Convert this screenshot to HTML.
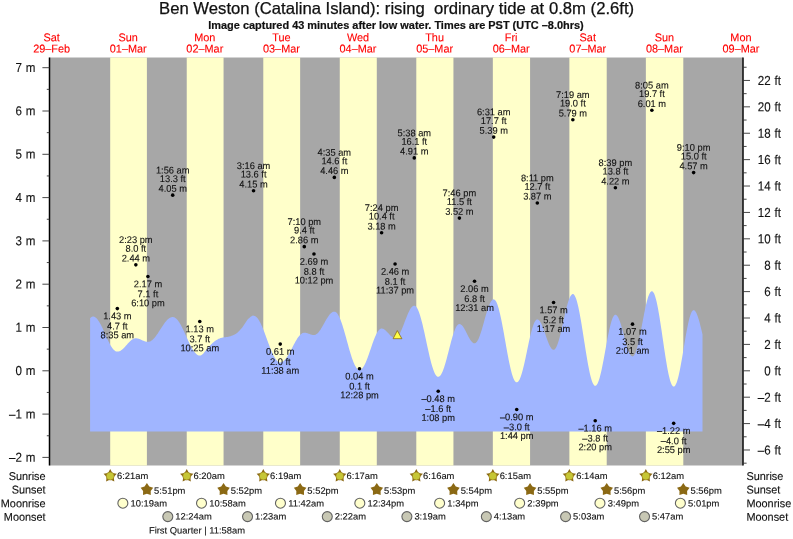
<!DOCTYPE html>
<html><head><meta charset="utf-8"><title>Ben Weston (Catalina Island) tide times</title>
<style>html,body{margin:0;padding:0;background:#fff}svg{display:block}</style></head>
<body>
<svg width="793" height="539" viewBox="0 0 793 539" font-family="'Liberation Sans', Arial, Helvetica, sans-serif">
<rect width="793" height="539" fill="#fff"/>
<rect x="49.50" y="57.50" width="693.50" height="408.00" fill="#a7a7a7"/>
<rect x="110.20" y="57.50" width="36.70" height="408.00" fill="#ffffca"/>
<rect x="186.74" y="57.50" width="36.81" height="408.00" fill="#ffffca"/>
<rect x="263.28" y="57.50" width="36.86" height="408.00" fill="#ffffca"/>
<rect x="339.77" y="57.50" width="37.02" height="408.00" fill="#ffffca"/>
<rect x="416.30" y="57.50" width="37.13" height="408.00" fill="#ffffca"/>
<rect x="492.84" y="57.50" width="37.23" height="408.00" fill="#ffffca"/>
<rect x="569.38" y="57.50" width="37.34" height="408.00" fill="#ffffca"/>
<rect x="645.86" y="57.50" width="37.44" height="408.00" fill="#ffffca"/>
<path d="M90.10 431.40 L90.10 318.37 L90.60 317.78 L91.10 317.31 L91.60 316.94 L92.10 316.68 L92.60 316.54 L93.10 316.50 L93.60 316.55 L94.10 316.68 L94.60 316.87 L95.10 317.14 L95.60 317.48 L96.10 317.89 L96.60 318.36 L97.10 318.90 L97.60 319.51 L98.10 320.17 L98.60 320.89 L99.10 321.67 L99.60 322.50 L100.10 323.38 L100.60 324.30 L101.10 325.26 L101.60 326.26 L102.10 327.29 L102.60 328.35 L103.10 329.43 L103.60 330.54 L104.10 331.65 L104.60 332.78 L105.10 333.91 L105.60 335.05 L106.10 336.18 L106.60 337.30 L107.10 338.40 L107.60 339.49 L108.10 340.56 L108.60 341.60 L109.10 342.61 L109.60 343.58 L110.10 344.51 L110.60 345.40 L111.10 346.24 L111.60 347.03 L112.10 347.77 L112.60 348.45 L113.10 349.07 L113.60 349.63 L114.10 350.12 L114.60 350.55 L115.10 350.90 L115.60 351.19 L116.10 351.41 L116.60 351.55 L117.10 351.62 L117.60 351.62 L118.10 351.57 L118.60 351.47 L119.10 351.33 L119.60 351.14 L120.10 350.90 L120.60 350.63 L121.10 350.31 L121.60 349.95 L122.10 349.56 L122.60 349.14 L123.10 348.68 L123.60 348.20 L124.10 347.69 L124.60 347.17 L125.10 346.63 L125.60 346.07 L126.10 345.51 L126.60 344.95 L127.10 344.38 L127.60 343.82 L128.10 343.27 L128.60 342.73 L129.10 342.20 L129.60 341.70 L130.10 341.22 L130.60 340.77 L131.10 340.34 L131.60 339.95 L132.10 339.60 L132.60 339.28 L133.10 339.01 L133.60 338.77 L134.10 338.59 L134.60 338.44 L135.10 338.35 L135.60 338.30 L136.10 338.30 L136.60 338.33 L137.10 338.39 L137.60 338.48 L138.10 338.60 L138.60 338.74 L139.10 338.90 L139.60 339.08 L140.10 339.28 L140.60 339.50 L141.10 339.72 L141.60 339.95 L142.10 340.18 L142.60 340.41 L143.10 340.64 L143.60 340.85 L144.10 341.05 L144.60 341.24 L145.10 341.40 L145.60 341.55 L146.10 341.67 L146.60 341.76 L147.10 341.82 L147.60 341.85 L148.10 341.86 L148.60 341.81 L149.10 341.72 L149.60 341.58 L150.10 341.39 L150.60 341.15 L151.10 340.86 L151.60 340.53 L152.10 340.16 L152.60 339.74 L153.10 339.28 L153.60 338.78 L154.10 338.24 L154.60 337.67 L155.10 337.06 L155.60 336.43 L156.10 335.76 L156.60 335.07 L157.10 334.36 L157.60 333.63 L158.10 332.88 L158.60 332.12 L159.10 331.35 L159.60 330.57 L160.10 329.78 L160.60 329.00 L161.10 328.21 L161.60 327.43 L162.10 326.66 L162.60 325.90 L163.10 325.16 L163.60 324.43 L164.10 323.72 L164.60 323.03 L165.10 322.37 L165.60 321.74 L166.10 321.14 L166.60 320.58 L167.10 320.05 L167.60 319.55 L168.10 319.10 L168.60 318.69 L169.10 318.32 L169.60 317.99 L170.10 317.72 L170.60 317.49 L171.10 317.30 L171.60 317.17 L172.10 317.08 L172.60 317.05 L173.10 317.07 L173.60 317.15 L174.10 317.30 L174.60 317.51 L175.10 317.79 L175.60 318.13 L176.10 318.53 L176.60 318.99 L177.10 319.51 L177.60 320.08 L178.10 320.71 L178.60 321.39 L179.10 322.12 L179.60 322.90 L180.10 323.73 L180.60 324.59 L181.10 325.50 L181.60 326.44 L182.10 327.42 L182.60 328.42 L183.10 329.46 L183.60 330.51 L184.10 331.59 L184.60 332.68 L185.10 333.78 L185.60 334.89 L186.10 336.01 L186.60 337.13 L187.10 338.24 L187.60 339.35 L188.10 340.45 L188.60 341.53 L189.10 342.60 L189.60 343.65 L190.10 344.67 L190.60 345.66 L191.10 346.62 L191.60 347.55 L192.10 348.44 L192.60 349.29 L193.10 350.09 L193.60 350.85 L194.10 351.56 L194.60 352.22 L195.10 352.82 L195.60 353.37 L196.10 353.86 L196.60 354.29 L197.10 354.67 L197.60 354.98 L198.10 355.22 L198.60 355.41 L199.10 355.53 L199.60 355.58 L200.10 355.57 L200.60 355.44 L201.10 355.23 L201.60 354.94 L202.10 354.58 L202.60 354.16 L203.10 353.68 L203.60 353.15 L204.10 352.58 L204.60 351.99 L205.10 351.36 L205.60 350.73 L206.10 350.08 L206.60 349.44 L207.10 348.80 L207.60 348.18 L208.10 347.58 L208.60 347.01 L209.10 346.49 L209.60 346.01 L210.10 345.53 L210.60 345.05 L211.10 344.55 L211.60 344.06 L212.10 343.57 L212.60 343.08 L213.10 342.60 L213.60 342.14 L214.10 341.70 L214.60 341.29 L215.10 340.90 L215.60 340.55 L216.10 340.24 L216.60 339.94 L217.10 339.66 L217.60 339.38 L218.10 339.12 L218.60 338.87 L219.10 338.64 L219.60 338.43 L220.10 338.24 L220.60 338.07 L221.10 337.93 L221.60 337.80 L222.10 337.70 L222.60 337.60 L223.10 337.51 L223.60 337.44 L224.10 337.37 L224.60 337.30 L225.10 337.24 L225.60 337.17 L226.10 337.11 L226.60 337.04 L227.10 336.96 L227.60 336.88 L228.10 336.79 L228.60 336.69 L229.10 336.58 L229.60 336.45 L230.10 336.31 L230.60 336.16 L231.10 335.99 L231.60 335.81 L232.10 335.62 L232.60 335.42 L233.10 335.21 L233.60 334.98 L234.10 334.74 L234.60 334.49 L235.10 334.22 L235.60 333.94 L236.10 333.63 L236.60 333.27 L237.10 332.88 L237.60 332.45 L238.10 331.99 L238.60 331.51 L239.10 331.00 L239.60 330.47 L240.10 329.92 L240.60 329.37 L241.10 328.81 L241.60 328.24 L242.10 327.67 L242.60 327.03 L243.10 326.34 L243.60 325.59 L244.10 324.82 L244.60 324.02 L245.10 323.22 L245.60 322.42 L246.10 321.65 L246.60 320.92 L247.10 320.24 L247.60 319.62 L248.10 319.08 L248.60 318.62 L249.10 318.18 L249.60 317.73 L250.10 317.29 L250.60 316.87 L251.10 316.48 L251.60 316.15 L252.10 315.87 L252.60 315.66 L253.10 315.53 L253.60 315.73 L254.10 315.78 L254.60 315.91 L255.10 316.12 L255.60 316.41 L256.10 316.77 L256.60 317.22 L257.10 317.74 L257.60 318.33 L258.10 319.00 L258.60 319.74 L259.10 320.54 L259.60 321.41 L260.10 322.33 L260.60 323.32 L261.10 324.36 L261.60 325.45 L262.10 326.59 L262.60 327.77 L263.10 329.00 L263.60 330.25 L264.10 331.54 L264.60 332.85 L265.10 334.19 L265.60 335.54 L266.10 336.90 L266.60 338.27 L267.10 339.65 L267.60 341.02 L268.10 342.38 L268.60 343.74 L269.10 345.08 L269.60 346.39 L270.10 347.68 L270.60 348.95 L271.10 350.17 L271.60 351.36 L272.10 352.51 L272.60 353.61 L273.10 354.66 L273.60 355.66 L274.10 356.60 L274.60 357.48 L275.10 358.29 L275.60 359.04 L276.10 359.72 L276.60 360.33 L277.10 360.87 L277.60 361.32 L278.10 361.71 L278.60 362.01 L279.10 362.24 L279.60 362.38 L280.10 362.45 L280.60 362.43 L281.10 362.36 L281.60 362.22 L282.10 362.02 L282.60 361.75 L283.10 361.43 L283.60 361.05 L284.10 360.61 L284.60 360.11 L285.10 359.56 L285.60 358.96 L286.10 358.32 L286.60 357.62 L287.10 356.88 L287.60 356.11 L288.10 355.30 L288.60 354.45 L289.10 353.58 L289.60 352.67 L290.10 351.75 L290.60 350.81 L291.10 349.86 L291.60 348.90 L292.10 347.93 L292.60 346.96 L293.10 345.99 L293.60 345.03 L294.10 344.08 L294.60 343.15 L295.10 342.23 L295.60 341.34 L296.10 340.47 L296.60 339.64 L297.10 338.84 L297.60 338.07 L298.10 337.35 L298.60 336.67 L299.10 336.04 L299.60 335.46 L300.10 334.92 L300.60 334.45 L301.10 334.02 L301.60 333.66 L302.10 333.36 L302.60 333.11 L303.10 332.93 L303.60 332.81 L304.10 332.76 L304.60 332.76 L305.10 332.79 L305.60 332.85 L306.10 332.94 L306.60 333.06 L307.10 333.19 L307.60 333.34 L308.10 333.51 L308.60 333.68 L309.10 333.87 L309.60 334.05 L310.10 334.22 L310.60 334.39 L311.10 334.55 L311.60 334.68 L312.10 334.80 L312.60 334.89 L313.10 334.95 L313.60 334.99 L314.10 335.00 L314.60 334.94 L315.10 334.82 L315.60 334.63 L316.10 334.37 L316.60 334.05 L317.10 333.66 L317.60 333.21 L318.10 332.71 L318.60 332.14 L319.10 331.53 L319.60 330.86 L320.10 330.15 L320.60 329.40 L321.10 328.62 L321.60 327.80 L322.10 326.96 L322.60 326.09 L323.10 325.21 L323.60 324.32 L324.10 323.42 L324.60 322.52 L325.10 321.62 L325.60 320.74 L326.10 319.87 L326.60 319.02 L327.10 318.19 L327.60 317.40 L328.10 316.64 L328.60 315.92 L329.10 315.25 L329.60 314.62 L330.10 314.05 L330.60 313.53 L331.10 313.07 L331.60 312.67 L332.10 312.33 L332.60 312.06 L333.10 311.85 L333.60 311.71 L334.10 311.65 L334.60 311.65 L335.10 311.77 L335.60 312.00 L336.10 312.34 L336.60 312.79 L337.10 313.35 L337.60 314.02 L338.10 314.79 L338.60 315.67 L339.10 316.64 L339.60 317.71 L340.10 318.86 L340.60 320.10 L341.10 321.43 L341.60 322.82 L342.10 324.29 L342.60 325.82 L343.10 327.42 L343.60 329.06 L344.10 330.75 L344.60 332.47 L345.10 334.23 L345.60 336.02 L346.10 337.83 L346.60 339.64 L347.10 341.46 L347.60 343.28 L348.10 345.09 L348.60 346.88 L349.10 348.65 L349.60 350.39 L350.10 352.09 L350.60 353.74 L351.10 355.35 L351.60 356.90 L352.10 358.38 L352.60 359.80 L353.10 361.15 L353.60 362.41 L354.10 363.59 L354.60 364.68 L355.10 365.68 L355.60 366.58 L356.10 367.38 L356.60 368.08 L357.10 368.67 L357.60 369.16 L358.10 369.53 L358.60 369.79 L359.10 369.94 L359.60 369.97 L360.10 369.90 L360.60 369.72 L361.10 369.44 L361.60 369.06 L362.10 368.57 L362.60 368.00 L363.10 367.32 L363.60 366.56 L364.10 365.70 L364.60 364.77 L365.10 363.76 L365.60 362.67 L366.10 361.52 L366.60 360.30 L367.10 359.03 L367.60 357.71 L368.10 356.35 L368.60 354.95 L369.10 353.52 L369.60 352.07 L370.10 350.61 L370.60 349.14 L371.10 347.67 L371.60 346.21 L372.10 344.76 L372.60 343.34 L373.10 341.94 L373.60 340.59 L374.10 339.27 L374.60 338.01 L375.10 336.80 L375.60 335.66 L376.10 334.59 L376.60 333.58 L377.10 332.66 L377.60 331.82 L378.10 331.07 L378.60 330.41 L379.10 329.85 L379.60 329.38 L380.10 329.01 L380.60 328.75 L381.10 328.59 L381.60 328.53 L382.10 328.56 L382.60 328.65 L383.10 328.81 L383.60 329.03 L384.10 329.30 L384.60 329.63 L385.10 330.01 L385.60 330.43 L386.10 330.90 L386.60 331.39 L387.10 331.91 L387.60 332.45 L388.10 333.00 L388.60 333.56 L389.10 334.11 L389.60 334.65 L390.10 335.17 L390.60 335.66 L391.10 336.12 L391.60 336.55 L392.10 336.93 L392.60 337.26 L393.10 337.53 L393.60 337.75 L394.10 337.91 L394.60 338.00 L395.10 338.03 L395.60 337.98 L396.10 337.81 L396.60 337.54 L397.10 337.16 L397.60 336.68 L398.10 336.10 L398.60 335.43 L399.10 334.66 L399.60 333.81 L400.10 332.88 L400.60 331.88 L401.10 330.81 L401.60 329.68 L402.10 328.49 L402.60 327.27 L403.10 326.00 L403.60 324.71 L404.10 323.40 L404.60 322.08 L405.10 320.76 L405.60 319.45 L406.10 318.15 L406.60 316.88 L407.10 315.64 L407.60 314.44 L408.10 313.29 L408.60 312.20 L409.10 311.17 L409.60 310.22 L410.10 309.34 L410.60 308.55 L411.10 307.84 L411.60 307.23 L412.10 306.72 L412.60 306.31 L413.10 306.00 L413.60 305.80 L414.10 305.71 L414.60 305.73 L415.10 305.90 L415.60 306.23 L416.10 306.71 L416.60 307.33 L417.10 308.10 L417.60 309.02 L418.10 310.07 L418.60 311.26 L419.10 312.58 L419.60 314.02 L420.10 315.57 L420.60 317.24 L421.10 319.01 L421.60 320.88 L422.10 322.84 L422.60 324.87 L423.10 326.98 L423.60 329.14 L424.10 331.36 L424.60 333.62 L425.10 335.92 L425.60 338.24 L426.10 340.57 L426.60 342.90 L427.10 345.23 L427.60 347.54 L428.10 349.82 L428.60 352.07 L429.10 354.26 L429.60 356.41 L430.10 358.49 L430.60 360.49 L431.10 362.41 L431.60 364.24 L432.10 365.97 L432.60 367.60 L433.10 369.11 L433.60 370.50 L434.10 371.77 L434.60 372.90 L435.10 373.90 L435.60 374.76 L436.10 375.47 L436.60 376.04 L437.10 376.45 L437.60 376.72 L438.10 376.83 L438.60 376.79 L439.10 376.61 L439.60 376.28 L440.10 375.81 L440.60 375.20 L441.10 374.46 L441.60 373.58 L442.10 372.57 L442.60 371.45 L443.10 370.20 L443.60 368.85 L444.10 367.40 L444.60 365.85 L445.10 364.22 L445.60 362.51 L446.10 360.74 L446.60 358.91 L447.10 357.03 L447.60 355.12 L448.10 353.18 L448.60 351.23 L449.10 349.27 L449.60 347.32 L450.10 345.38 L450.60 343.48 L451.10 341.61 L451.60 339.79 L452.10 338.03 L452.60 336.34 L453.10 334.72 L453.60 333.19 L454.10 331.76 L454.60 330.43 L455.10 329.21 L455.60 328.10 L456.10 327.12 L456.60 326.27 L457.10 325.55 L457.60 324.97 L458.10 324.52 L458.60 324.22 L459.10 324.07 L459.60 324.05 L460.10 324.15 L460.60 324.35 L461.10 324.64 L461.60 325.04 L462.10 325.53 L462.60 326.10 L463.10 326.76 L463.60 327.49 L464.10 328.29 L464.60 329.14 L465.10 330.05 L465.60 330.99 L466.10 331.96 L466.60 332.95 L467.10 333.95 L467.60 334.94 L468.10 335.92 L468.60 336.88 L469.10 337.80 L469.60 338.68 L470.10 339.51 L470.60 340.27 L471.10 340.96 L471.60 341.57 L472.10 342.10 L472.60 342.54 L473.10 342.88 L473.60 343.13 L474.10 343.27 L474.60 343.31 L475.10 343.22 L475.60 342.98 L476.10 342.60 L476.60 342.08 L477.10 341.41 L477.60 340.61 L478.10 339.68 L478.60 338.63 L479.10 337.46 L479.60 336.18 L480.10 334.80 L480.60 333.33 L481.10 331.78 L481.60 330.16 L482.10 328.48 L482.60 326.76 L483.10 324.99 L483.60 323.21 L484.10 321.41 L484.60 319.60 L485.10 317.82 L485.60 316.05 L486.10 314.32 L486.60 312.64 L487.10 311.01 L487.60 309.46 L488.10 307.98 L488.60 306.60 L489.10 305.31 L489.60 304.13 L490.10 303.07 L490.60 302.13 L491.10 301.32 L491.60 300.65 L492.10 300.11 L492.60 299.72 L493.10 299.47 L493.60 299.37 L494.10 299.43 L494.60 299.68 L495.10 300.13 L495.60 300.76 L496.10 301.58 L496.60 302.59 L497.10 303.77 L497.60 305.12 L498.10 306.64 L498.60 308.32 L499.10 310.15 L499.60 312.13 L500.10 314.23 L500.60 316.47 L501.10 318.81 L501.60 321.26 L502.10 323.80 L502.60 326.41 L503.10 329.10 L503.60 331.84 L504.10 334.62 L504.60 337.43 L505.10 340.26 L505.60 343.09 L506.10 345.91 L506.60 348.71 L507.10 351.47 L507.60 354.18 L508.10 356.82 L508.60 359.40 L509.10 361.89 L509.60 364.28 L510.10 366.56 L510.60 368.72 L511.10 370.75 L511.60 372.65 L512.10 374.39 L512.60 375.98 L513.10 377.41 L513.60 378.67 L514.10 379.75 L514.60 380.65 L515.10 381.36 L515.60 381.89 L516.10 382.23 L516.60 382.37 L517.10 382.33 L517.60 382.10 L518.10 381.69 L518.60 381.10 L519.10 380.33 L519.60 379.39 L520.10 378.29 L520.60 377.03 L521.10 375.61 L521.60 374.05 L522.10 372.36 L522.60 370.54 L523.10 368.61 L523.60 366.58 L524.10 364.45 L524.60 362.24 L525.10 359.97 L525.60 357.65 L526.10 355.28 L526.60 352.89 L527.10 350.49 L527.60 348.10 L528.10 345.71 L528.60 343.36 L529.10 341.05 L529.60 338.80 L530.10 336.62 L530.60 334.53 L531.10 332.52 L531.60 330.63 L532.10 328.85 L532.60 327.20 L533.10 325.69 L533.60 324.33 L534.10 323.12 L534.60 322.07 L535.10 321.19 L535.60 320.49 L536.10 319.96 L536.60 319.61 L537.10 319.44 L537.60 319.45 L538.10 319.60 L538.60 319.89 L539.10 320.32 L539.60 320.89 L540.10 321.58 L540.60 322.39 L541.10 323.31 L541.60 324.34 L542.10 325.47 L542.60 326.68 L543.10 327.96 L543.60 329.31 L544.10 330.71 L544.60 332.14 L545.10 333.59 L545.60 335.06 L546.10 336.52 L546.60 337.96 L547.10 339.37 L547.60 340.74 L548.10 342.04 L548.60 343.28 L549.10 344.44 L549.60 345.51 L550.10 346.48 L550.60 347.33 L551.10 348.07 L551.60 348.68 L552.10 349.16 L552.60 349.51 L553.10 349.71 L553.60 349.78 L554.10 349.68 L554.60 349.40 L555.10 348.93 L555.60 348.28 L556.10 347.46 L556.60 346.47 L557.10 345.32 L557.60 344.01 L558.10 342.55 L558.60 340.96 L559.10 339.24 L559.60 337.40 L560.10 335.46 L560.60 333.43 L561.10 331.33 L561.60 329.16 L562.10 326.95 L562.60 324.70 L563.10 322.43 L563.60 320.16 L564.10 317.90 L564.60 315.67 L565.10 313.48 L565.60 311.34 L566.10 309.28 L566.60 307.30 L567.10 305.42 L567.60 303.65 L568.10 302.00 L568.60 300.48 L569.10 299.10 L569.60 297.88 L570.10 296.82 L570.60 295.92 L571.10 295.20 L571.60 294.65 L572.10 294.29 L572.60 294.11 L573.10 294.12 L573.60 294.35 L574.10 294.80 L574.60 295.48 L575.10 296.38 L575.60 297.49 L576.10 298.81 L576.60 300.33 L577.10 302.05 L577.60 303.95 L578.10 306.03 L578.60 308.28 L579.10 310.68 L579.60 313.23 L580.10 315.91 L580.60 318.70 L581.10 321.60 L581.60 324.59 L582.10 327.66 L582.60 330.79 L583.10 333.96 L583.60 337.16 L584.10 340.38 L584.60 343.59 L585.10 346.79 L585.60 349.95 L586.10 353.06 L586.60 356.11 L587.10 359.08 L587.60 361.95 L588.10 364.72 L588.60 367.36 L589.10 369.87 L589.60 372.23 L590.10 374.44 L590.60 376.47 L591.10 378.33 L591.60 379.99 L592.10 381.46 L592.60 382.72 L593.10 383.78 L593.60 384.62 L594.10 385.24 L594.60 385.63 L595.10 385.80 L595.60 385.75 L596.10 385.48 L596.60 385.00 L597.10 384.31 L597.60 383.41 L598.10 382.32 L598.60 381.02 L599.10 379.54 L599.60 377.89 L600.10 376.06 L600.60 374.08 L601.10 371.96 L601.60 369.70 L602.10 367.33 L602.60 364.85 L603.10 362.29 L603.60 359.65 L604.10 356.95 L604.60 354.22 L605.10 351.46 L605.60 348.69 L606.10 345.94 L606.60 343.21 L607.10 340.52 L607.60 337.90 L608.10 335.34 L608.60 332.88 L609.10 330.53 L609.60 328.29 L610.10 326.19 L610.60 324.24 L611.10 322.44 L611.60 320.81 L612.10 319.36 L612.60 318.10 L613.10 317.04 L613.60 316.17 L614.10 315.52 L614.60 315.07 L615.10 314.84 L615.60 314.82 L616.10 314.98 L616.60 315.32 L617.10 315.82 L617.60 316.49 L618.10 317.33 L618.60 318.31 L619.10 319.44 L619.60 320.71 L620.10 322.10 L620.60 323.60 L621.10 325.21 L621.60 326.90 L622.10 328.67 L622.60 330.49 L623.10 332.36 L623.60 334.25 L624.10 336.16 L624.60 338.06 L625.10 339.94 L625.60 341.78 L626.10 343.58 L626.60 345.30 L627.10 346.94 L627.60 348.49 L628.10 349.93 L628.60 351.25 L629.10 352.43 L629.60 353.48 L630.10 354.37 L630.60 355.11 L631.10 355.68 L631.60 356.09 L632.10 356.32 L632.60 356.38 L633.10 356.23 L633.60 355.87 L634.10 355.30 L634.60 354.53 L635.10 353.55 L635.60 352.38 L636.10 351.01 L636.60 349.47 L637.10 347.76 L637.60 345.89 L638.10 343.88 L638.60 341.73 L639.10 339.47 L639.60 337.10 L640.10 334.65 L640.60 332.12 L641.10 329.54 L641.60 326.92 L642.10 324.28 L642.60 321.64 L643.10 319.01 L643.60 316.41 L644.10 313.86 L644.60 311.38 L645.10 308.97 L645.60 306.67 L646.10 304.48 L646.60 302.41 L647.10 300.49 L647.60 298.71 L648.10 297.11 L648.60 295.68 L649.10 294.43 L649.60 293.38 L650.10 292.52 L650.60 291.88 L651.10 291.44 L651.60 291.21 L652.10 291.21 L652.60 291.44 L653.10 291.92 L653.60 292.65 L654.10 293.61 L654.60 294.81 L655.10 296.24 L655.60 297.89 L656.10 299.75 L656.60 301.81 L657.10 304.07 L657.60 306.51 L658.10 309.12 L658.60 311.88 L659.10 314.78 L659.60 317.80 L660.10 320.94 L660.60 324.16 L661.10 327.47 L661.60 330.83 L662.10 334.24 L662.60 337.67 L663.10 341.10 L663.60 344.53 L664.10 347.92 L664.60 351.27 L665.10 354.55 L665.60 357.76 L666.10 360.86 L666.60 363.85 L667.10 366.71 L667.60 369.43 L668.10 371.99 L668.60 374.38 L669.10 376.58 L669.60 378.59 L670.10 380.39 L670.60 381.98 L671.10 383.34 L671.60 384.47 L672.10 385.37 L672.60 386.02 L673.10 386.43 L673.60 386.60 L674.10 386.52 L674.60 386.20 L675.10 385.65 L675.60 384.87 L676.10 383.86 L676.60 382.64 L677.10 381.20 L677.60 379.55 L678.10 377.72 L678.60 375.70 L679.10 373.51 L679.60 371.17 L680.10 368.69 L680.60 366.08 L681.10 363.36 L681.60 360.54 L682.10 357.66 L682.60 354.71 L683.10 351.73 L683.60 348.72 L684.10 345.72 L684.60 342.73 L685.10 339.77 L685.60 336.87 L686.10 334.04 L686.60 331.30 L687.10 328.66 L687.60 326.15 L688.10 323.77 L688.60 321.55 L689.10 319.50 L689.60 317.62 L690.10 315.93 L690.60 314.45 L691.10 313.17 L691.60 312.12 L692.10 311.29 L692.60 310.69 L693.10 310.32 L693.60 310.19 L694.10 310.27 L694.60 310.55 L695.10 311.01 L695.60 311.65 L696.10 312.48 L696.60 313.48 L697.10 314.64 L697.60 315.95 L698.10 317.41 L698.60 319.01 L699.10 320.72 L699.60 322.54 L700.10 324.45 L700.60 326.44 L701.10 328.49 L701.60 330.58 L702.10 332.71 L702.50 334.41 L702.50 431.40 Z" fill="#a0b5ff"/>
<g stroke="#000" stroke-width="1.5"><line x1="49.50" y1="57.50" x2="49.50" y2="465.50"/></g>
<g stroke="#151515" stroke-width="1.6"><line x1="743.00" y1="57.50" x2="743.00" y2="465.50"/></g>
<g stroke="#333" stroke-width="0.9">
<line x1="42.4" y1="457.40" x2="49.5" y2="457.40"/>
<line x1="46.8" y1="435.75" x2="49.5" y2="435.75"/>
<line x1="42.4" y1="414.10" x2="49.5" y2="414.10"/>
<line x1="46.8" y1="392.45" x2="49.5" y2="392.45"/>
<line x1="42.4" y1="370.80" x2="49.5" y2="370.80"/>
<line x1="46.8" y1="349.15" x2="49.5" y2="349.15"/>
<line x1="42.4" y1="327.50" x2="49.5" y2="327.50"/>
<line x1="46.8" y1="305.85" x2="49.5" y2="305.85"/>
<line x1="42.4" y1="284.20" x2="49.5" y2="284.20"/>
<line x1="46.8" y1="262.55" x2="49.5" y2="262.55"/>
<line x1="42.4" y1="240.90" x2="49.5" y2="240.90"/>
<line x1="46.8" y1="219.25" x2="49.5" y2="219.25"/>
<line x1="42.4" y1="197.60" x2="49.5" y2="197.60"/>
<line x1="46.8" y1="175.95" x2="49.5" y2="175.95"/>
<line x1="42.4" y1="154.30" x2="49.5" y2="154.30"/>
<line x1="46.8" y1="132.65" x2="49.5" y2="132.65"/>
<line x1="42.4" y1="111.00" x2="49.5" y2="111.00"/>
<line x1="46.8" y1="89.35" x2="49.5" y2="89.35"/>
<line x1="42.4" y1="67.70" x2="49.5" y2="67.70"/>
<line x1="743" y1="463.18" x2="746.6" y2="463.18"/>
<line x1="743" y1="449.99" x2="750" y2="449.99"/>
<line x1="743" y1="436.79" x2="746.6" y2="436.79"/>
<line x1="743" y1="423.59" x2="750" y2="423.59"/>
<line x1="743" y1="410.39" x2="746.6" y2="410.39"/>
<line x1="743" y1="397.20" x2="750" y2="397.20"/>
<line x1="743" y1="384.00" x2="746.6" y2="384.00"/>
<line x1="743" y1="370.80" x2="750" y2="370.80"/>
<line x1="743" y1="357.60" x2="746.6" y2="357.60"/>
<line x1="743" y1="344.40" x2="750" y2="344.40"/>
<line x1="743" y1="331.21" x2="746.6" y2="331.21"/>
<line x1="743" y1="318.01" x2="750" y2="318.01"/>
<line x1="743" y1="304.81" x2="746.6" y2="304.81"/>
<line x1="743" y1="291.61" x2="750" y2="291.61"/>
<line x1="743" y1="278.42" x2="746.6" y2="278.42"/>
<line x1="743" y1="265.22" x2="750" y2="265.22"/>
<line x1="743" y1="252.02" x2="746.6" y2="252.02"/>
<line x1="743" y1="238.82" x2="750" y2="238.82"/>
<line x1="743" y1="225.62" x2="746.6" y2="225.62"/>
<line x1="743" y1="212.43" x2="750" y2="212.43"/>
<line x1="743" y1="199.23" x2="746.6" y2="199.23"/>
<line x1="743" y1="186.03" x2="750" y2="186.03"/>
<line x1="743" y1="172.83" x2="746.6" y2="172.83"/>
<line x1="743" y1="159.63" x2="750" y2="159.63"/>
<line x1="743" y1="146.44" x2="746.6" y2="146.44"/>
<line x1="743" y1="133.24" x2="750" y2="133.24"/>
<line x1="743" y1="120.04" x2="746.6" y2="120.04"/>
<line x1="743" y1="106.84" x2="750" y2="106.84"/>
<line x1="743" y1="93.65" x2="746.6" y2="93.65"/>
<line x1="743" y1="80.45" x2="750" y2="80.45"/>
<line x1="743" y1="67.25" x2="746.6" y2="67.25"/>
</g>
<g font-size="11.6" fill="#111" stroke="#111" stroke-width="0.12" word-spacing="0.6">
<text transform="translate(35.30 461.70) rotate(0.03) scale(1.000 1.120)" text-anchor="end">–2 m</text>
<text transform="translate(35.30 418.40) rotate(0.03) scale(1.000 1.120)" text-anchor="end">–1 m</text>
<text transform="translate(35.30 375.10) rotate(0.03) scale(1.000 1.120)" text-anchor="end">0 m</text>
<text transform="translate(35.30 331.80) rotate(0.03) scale(1.000 1.120)" text-anchor="end">1 m</text>
<text transform="translate(35.30 288.50) rotate(0.03) scale(1.000 1.120)" text-anchor="end">2 m</text>
<text transform="translate(35.30 245.20) rotate(0.03) scale(1.000 1.120)" text-anchor="end">3 m</text>
<text transform="translate(35.30 201.90) rotate(0.03) scale(1.000 1.120)" text-anchor="end">4 m</text>
<text transform="translate(35.30 158.60) rotate(0.03) scale(1.000 1.120)" text-anchor="end">5 m</text>
<text transform="translate(35.30 115.30) rotate(0.03) scale(1.000 1.120)" text-anchor="end">6 m</text>
<text transform="translate(35.30 72.00) rotate(0.03) scale(1.000 1.120)" text-anchor="end">7 m</text>
<text transform="translate(780.90 454.49) rotate(0.03) scale(1.000 1.120)" text-anchor="end">–6 ft</text>
<text transform="translate(780.90 428.09) rotate(0.03) scale(1.000 1.120)" text-anchor="end">–4 ft</text>
<text transform="translate(780.90 401.70) rotate(0.03) scale(1.000 1.120)" text-anchor="end">–2 ft</text>
<text transform="translate(780.90 375.30) rotate(0.03) scale(1.000 1.120)" text-anchor="end">0 ft</text>
<text transform="translate(780.90 348.90) rotate(0.03) scale(1.000 1.120)" text-anchor="end">2 ft</text>
<text transform="translate(780.90 322.51) rotate(0.03) scale(1.000 1.120)" text-anchor="end">4 ft</text>
<text transform="translate(780.90 296.11) rotate(0.03) scale(1.000 1.120)" text-anchor="end">6 ft</text>
<text transform="translate(780.90 269.72) rotate(0.03) scale(1.000 1.120)" text-anchor="end">8 ft</text>
<text transform="translate(780.90 243.32) rotate(0.03) scale(1.000 1.120)" text-anchor="end">10 ft</text>
<text transform="translate(780.90 216.93) rotate(0.03) scale(1.000 1.120)" text-anchor="end">12 ft</text>
<text transform="translate(780.90 190.53) rotate(0.03) scale(1.000 1.120)" text-anchor="end">14 ft</text>
<text transform="translate(780.90 164.13) rotate(0.03) scale(1.000 1.120)" text-anchor="end">16 ft</text>
<text transform="translate(780.90 137.74) rotate(0.03) scale(1.000 1.120)" text-anchor="end">18 ft</text>
<text transform="translate(780.90 111.34) rotate(0.03) scale(1.000 1.120)" text-anchor="end">20 ft</text>
<text transform="translate(780.90 84.95) rotate(0.03) scale(1.000 1.120)" text-anchor="end">22 ft</text>
</g>
<text x="396.6" y="14.0" font-size="16.68" text-anchor="middle" fill="#111" stroke="#111" stroke-width="0.25" xml:space="preserve">Ben Weston (Catalina Island): rising  ordinary tide at 0.8m (2.6ft)</text>
<text x="396" y="28.7" font-size="10.94" font-weight="bold" text-anchor="middle" fill="#111" stroke="#111" stroke-width="0.2">Image captured 43 minutes after low water. Times are PST (UTC –8.0hrs)</text>
<g font-size="10.9" fill="#ff0000" stroke="#ff0000" stroke-width="0.1" text-anchor="middle">
<text transform="translate(51.64 41.35) rotate(0.03) scale(1.000 1.040)">Sat</text><text transform="translate(51.64 52.45) rotate(0.03) scale(1.000 1.040)">29–Feb</text>
<text transform="translate(128.24 41.35) rotate(0.03) scale(1.000 1.040)">Sun</text><text transform="translate(128.24 52.45) rotate(0.03) scale(1.000 1.040)">01–Mar</text>
<text transform="translate(204.83 41.35) rotate(0.03) scale(1.000 1.040)">Mon</text><text transform="translate(204.83 52.45) rotate(0.03) scale(1.000 1.040)">02–Mar</text>
<text transform="translate(281.42 41.35) rotate(0.03) scale(1.000 1.040)">Tue</text><text transform="translate(281.42 52.45) rotate(0.03) scale(1.000 1.040)">03–Mar</text>
<text transform="translate(358.01 41.35) rotate(0.03) scale(1.000 1.040)">Wed</text><text transform="translate(358.01 52.45) rotate(0.03) scale(1.000 1.040)">04–Mar</text>
<text transform="translate(434.60 41.35) rotate(0.03) scale(1.000 1.040)">Thu</text><text transform="translate(434.60 52.45) rotate(0.03) scale(1.000 1.040)">05–Mar</text>
<text transform="translate(511.19 41.35) rotate(0.03) scale(1.000 1.040)">Fri</text><text transform="translate(511.19 52.45) rotate(0.03) scale(1.000 1.040)">06–Mar</text>
<text transform="translate(587.78 41.35) rotate(0.03) scale(1.000 1.040)">Sat</text><text transform="translate(587.78 52.45) rotate(0.03) scale(1.000 1.040)">07–Mar</text>
<text transform="translate(664.37 41.35) rotate(0.03) scale(1.000 1.040)">Sun</text><text transform="translate(664.37 52.45) rotate(0.03) scale(1.000 1.040)">08–Mar</text>
<text transform="translate(740.97 41.35) rotate(0.03) scale(1.000 1.040)">Mon</text><text transform="translate(740.97 52.45) rotate(0.03) scale(1.000 1.040)">09–Mar</text>
</g>
<g font-size="9.3" fill="#111" stroke="#111" stroke-width="0.1" text-anchor="middle">
<circle cx="117.33" cy="308.58" r="1.8" fill="#000" stroke="none"/>
<text transform="translate(117.33 319.28) rotate(0.03) scale(1.000 1.040)">1.43 m</text>
<text transform="translate(117.33 329.38) rotate(0.03) scale(1.000 1.040)">4.7 ft</text>
<text transform="translate(117.33 338.18) rotate(0.03) scale(1.000 1.040)">8:35 am</text>
<circle cx="135.84" cy="264.85" r="1.8" fill="#000" stroke="none"/>
<text transform="translate(135.84 243.10) rotate(0.03) scale(1.000 1.040)">2:23 pm</text>
<text transform="translate(135.84 251.65) rotate(0.03) scale(1.000 1.040)">8.0 ft</text>
<text transform="translate(135.84 261.50) rotate(0.03) scale(1.000 1.040)">2.44 m</text>
<circle cx="147.92" cy="276.54" r="1.8" fill="#000" stroke="none"/>
<text transform="translate(147.92 287.24) rotate(0.03) scale(1.000 1.040)">2.17 m</text>
<text transform="translate(147.92 297.34) rotate(0.03) scale(1.000 1.040)">7.1 ft</text>
<text transform="translate(147.92 306.14) rotate(0.03) scale(1.000 1.040)">6:10 pm</text>
<circle cx="172.70" cy="195.14" r="1.8" fill="#000" stroke="none"/>
<text transform="translate(172.70 173.39) rotate(0.03) scale(1.000 1.040)">1:56 am</text>
<text transform="translate(172.70 181.94) rotate(0.03) scale(1.000 1.040)">13.3 ft</text>
<text transform="translate(172.70 191.79) rotate(0.03) scale(1.000 1.040)">4.05 m</text>
<circle cx="199.77" cy="321.57" r="1.8" fill="#000" stroke="none"/>
<text transform="translate(199.77 332.27) rotate(0.03) scale(1.000 1.040)">1.13 m</text>
<text transform="translate(199.77 342.37) rotate(0.03) scale(1.000 1.040)">3.7 ft</text>
<text transform="translate(199.77 351.17) rotate(0.03) scale(1.000 1.040)">10:25 am</text>
<circle cx="253.55" cy="190.81" r="1.8" fill="#000" stroke="none"/>
<text transform="translate(253.55 169.06) rotate(0.03) scale(1.000 1.040)">3:16 am</text>
<text transform="translate(253.55 177.61) rotate(0.03) scale(1.000 1.040)">13.6 ft</text>
<text transform="translate(253.55 187.46) rotate(0.03) scale(1.000 1.040)">4.15 m</text>
<circle cx="280.25" cy="344.09" r="1.8" fill="#000" stroke="none"/>
<text transform="translate(280.25 354.79) rotate(0.03) scale(1.000 1.040)">0.61 m</text>
<text transform="translate(280.25 364.89) rotate(0.03) scale(1.000 1.040)">2.0 ft</text>
<text transform="translate(280.25 373.69) rotate(0.03) scale(1.000 1.040)">11:38 am</text>
<circle cx="304.29" cy="246.66" r="1.8" fill="#000" stroke="none"/>
<text transform="translate(304.29 224.91) rotate(0.03) scale(1.000 1.040)">7:10 pm</text>
<text transform="translate(304.29 233.46) rotate(0.03) scale(1.000 1.040)">9.4 ft</text>
<text transform="translate(304.29 243.31) rotate(0.03) scale(1.000 1.040)">2.86 m</text>
<circle cx="313.97" cy="254.02" r="1.8" fill="#000" stroke="none"/>
<text transform="translate(313.97 264.72) rotate(0.03) scale(1.000 1.040)">2.69 m</text>
<text transform="translate(313.97 274.82) rotate(0.03) scale(1.000 1.040)">8.8 ft</text>
<text transform="translate(313.97 283.62) rotate(0.03) scale(1.000 1.040)">10:12 pm</text>
<circle cx="334.34" cy="177.38" r="1.8" fill="#000" stroke="none"/>
<text transform="translate(334.34 155.63) rotate(0.03) scale(1.000 1.040)">4:35 am</text>
<text transform="translate(334.34 164.18) rotate(0.03) scale(1.000 1.040)">14.6 ft</text>
<text transform="translate(334.34 174.03) rotate(0.03) scale(1.000 1.040)">4.46 m</text>
<circle cx="359.50" cy="368.77" r="1.8" fill="#000" stroke="none"/>
<text transform="translate(359.50 379.47) rotate(0.03) scale(1.000 1.040)">0.04 m</text>
<text transform="translate(359.50 389.57) rotate(0.03) scale(1.000 1.040)">0.1 ft</text>
<text transform="translate(359.50 398.37) rotate(0.03) scale(1.000 1.040)">12:28 pm</text>
<circle cx="381.62" cy="232.81" r="1.8" fill="#000" stroke="none"/>
<text transform="translate(381.62 211.06) rotate(0.03) scale(1.000 1.040)">7:24 pm</text>
<text transform="translate(381.62 219.61) rotate(0.03) scale(1.000 1.040)">10.4 ft</text>
<text transform="translate(381.62 229.46) rotate(0.03) scale(1.000 1.040)">3.18 m</text>
<circle cx="395.08" cy="263.98" r="1.8" fill="#000" stroke="none"/>
<text transform="translate(395.08 274.68) rotate(0.03) scale(1.000 1.040)">2.46 m</text>
<text transform="translate(395.08 284.78) rotate(0.03) scale(1.000 1.040)">8.1 ft</text>
<text transform="translate(395.08 293.58) rotate(0.03) scale(1.000 1.040)">11:37 pm</text>
<circle cx="414.28" cy="157.90" r="1.8" fill="#000" stroke="none"/>
<text transform="translate(414.28 136.15) rotate(0.03) scale(1.000 1.040)">5:38 am</text>
<text transform="translate(414.28 144.70) rotate(0.03) scale(1.000 1.040)">16.1 ft</text>
<text transform="translate(414.28 154.55) rotate(0.03) scale(1.000 1.040)">4.91 m</text>
<circle cx="438.22" cy="391.28" r="1.8" fill="#000" stroke="none"/>
<text transform="translate(438.22 401.98) rotate(0.03) scale(1.000 1.040)">–0.48 m</text>
<text transform="translate(438.22 412.08) rotate(0.03) scale(1.000 1.040)">–1.6 ft</text>
<text transform="translate(438.22 420.88) rotate(0.03) scale(1.000 1.040)">1:08 pm</text>
<circle cx="459.39" cy="218.08" r="1.8" fill="#000" stroke="none"/>
<text transform="translate(459.39 196.33) rotate(0.03) scale(1.000 1.040)">7:46 pm</text>
<text transform="translate(459.39 204.88) rotate(0.03) scale(1.000 1.040)">11.5 ft</text>
<text transform="translate(459.39 214.73) rotate(0.03) scale(1.000 1.040)">3.52 m</text>
<circle cx="474.54" cy="281.30" r="1.8" fill="#000" stroke="none"/>
<text transform="translate(474.54 292.00) rotate(0.03) scale(1.000 1.040)">2.06 m</text>
<text transform="translate(474.54 302.10) rotate(0.03) scale(1.000 1.040)">6.8 ft</text>
<text transform="translate(474.54 310.90) rotate(0.03) scale(1.000 1.040)">12:31 am</text>
<circle cx="493.69" cy="137.11" r="1.8" fill="#000" stroke="none"/>
<text transform="translate(493.69 115.36) rotate(0.03) scale(1.000 1.040)">6:31 am</text>
<text transform="translate(493.69 123.91) rotate(0.03) scale(1.000 1.040)">17.7 ft</text>
<text transform="translate(493.69 133.76) rotate(0.03) scale(1.000 1.040)">5.39 m</text>
<circle cx="516.72" cy="409.47" r="1.8" fill="#000" stroke="none"/>
<text transform="translate(516.72 420.17) rotate(0.03) scale(1.000 1.040)">–0.90 m</text>
<text transform="translate(516.72 430.27) rotate(0.03) scale(1.000 1.040)">–3.0 ft</text>
<text transform="translate(516.72 439.07) rotate(0.03) scale(1.000 1.040)">1:44 pm</text>
<circle cx="537.31" cy="202.93" r="1.8" fill="#000" stroke="none"/>
<text transform="translate(537.31 181.18) rotate(0.03) scale(1.000 1.040)">8:11 pm</text>
<text transform="translate(537.31 189.73) rotate(0.03) scale(1.000 1.040)">12.7 ft</text>
<text transform="translate(537.31 199.58) rotate(0.03) scale(1.000 1.040)">3.87 m</text>
<circle cx="553.58" cy="302.52" r="1.8" fill="#000" stroke="none"/>
<text transform="translate(553.58 313.22) rotate(0.03) scale(1.000 1.040)">1.57 m</text>
<text transform="translate(553.58 323.32) rotate(0.03) scale(1.000 1.040)">5.2 ft</text>
<text transform="translate(553.58 332.12) rotate(0.03) scale(1.000 1.040)">1:17 am</text>
<circle cx="572.84" cy="119.79" r="1.8" fill="#000" stroke="none"/>
<text transform="translate(572.84 98.04) rotate(0.03) scale(1.000 1.040)">7:19 am</text>
<text transform="translate(572.84 106.59) rotate(0.03) scale(1.000 1.040)">19.0 ft</text>
<text transform="translate(572.84 116.44) rotate(0.03) scale(1.000 1.040)">5.79 m</text>
<circle cx="595.23" cy="420.73" r="1.8" fill="#000" stroke="none"/>
<text transform="translate(595.23 431.43) rotate(0.03) scale(1.000 1.040)">–1.16 m</text>
<text transform="translate(595.23 441.53) rotate(0.03) scale(1.000 1.040)">–3.8 ft</text>
<text transform="translate(595.23 450.33) rotate(0.03) scale(1.000 1.040)">2:20 pm</text>
<circle cx="615.39" cy="187.77" r="1.8" fill="#000" stroke="none"/>
<text transform="translate(615.39 166.02) rotate(0.03) scale(1.000 1.040)">8:39 pm</text>
<text transform="translate(615.39 174.57) rotate(0.03) scale(1.000 1.040)">13.8 ft</text>
<text transform="translate(615.39 184.42) rotate(0.03) scale(1.000 1.040)">4.22 m</text>
<circle cx="632.51" cy="324.17" r="1.8" fill="#000" stroke="none"/>
<text transform="translate(632.51 334.87) rotate(0.03) scale(1.000 1.040)">1.07 m</text>
<text transform="translate(632.51 344.97) rotate(0.03) scale(1.000 1.040)">3.5 ft</text>
<text transform="translate(632.51 353.77) rotate(0.03) scale(1.000 1.040)">2:01 am</text>
<circle cx="651.87" cy="110.27" r="1.8" fill="#000" stroke="none"/>
<text transform="translate(651.87 88.52) rotate(0.03) scale(1.000 1.040)">8:05 am</text>
<text transform="translate(651.87 97.07) rotate(0.03) scale(1.000 1.040)">19.7 ft</text>
<text transform="translate(651.87 106.92) rotate(0.03) scale(1.000 1.040)">6.01 m</text>
<circle cx="673.68" cy="423.33" r="1.8" fill="#000" stroke="none"/>
<text transform="translate(673.68 434.03) rotate(0.03) scale(1.000 1.040)">–1.22 m</text>
<text transform="translate(673.68 444.13) rotate(0.03) scale(1.000 1.040)">–4.0 ft</text>
<text transform="translate(673.68 452.93) rotate(0.03) scale(1.000 1.040)">2:55 pm</text>
<circle cx="693.63" cy="172.62" r="1.8" fill="#000" stroke="none"/>
<text transform="translate(693.63 150.87) rotate(0.03) scale(1.000 1.040)">9:10 pm</text>
<text transform="translate(693.63 159.42) rotate(0.03) scale(1.000 1.040)">15.0 ft</text>
<text transform="translate(693.63 169.27) rotate(0.03) scale(1.000 1.040)">4.57 m</text>
</g>
<path d="M397.3 330.6 L401.9 338.7 L393.1 338.7 Z" fill="#ffff44" stroke="#8b6914" stroke-width="0.8" stroke-linejoin="round"/>
<g font-size="10.8" fill="#111" stroke="#111" stroke-width="0.12" text-anchor="end">
<text transform="translate(45.60 479.90) rotate(0.03) scale(1.010 1.050)">Sunrise</text>
<text transform="translate(45.60 493.60) rotate(0.03) scale(1.010 1.050)">Sunset</text>
<text transform="translate(45.60 507.30) rotate(0.03) scale(1.010 1.050)">Moonrise</text>
<text transform="translate(45.60 520.70) rotate(0.03) scale(1.010 1.050)">Moonset</text>
</g>
<g font-size="10.8" fill="#111" stroke="#111" stroke-width="0.12">
<text transform="translate(746.40 479.90) rotate(0.03) scale(1.010 1.050)">Sunrise</text>
<text transform="translate(746.40 493.60) rotate(0.03) scale(1.010 1.050)">Sunset</text>
<text transform="translate(746.40 507.30) rotate(0.03) scale(1.010 1.050)">Moonrise</text>
<text transform="translate(746.40 520.70) rotate(0.03) scale(1.010 1.050)">Moonset</text>
</g>
<g font-size="9.4" fill="#111" stroke="#111" stroke-width="0.12">
<polygon points="110.20,468.90 112.38,472.91 116.86,473.74 113.72,477.04 114.32,481.56 110.20,479.60 106.09,481.56 106.69,477.04 103.55,473.74 108.03,472.91" fill="#8b6914" stroke="none"/>
<circle cx="110.20" cy="476.1" r="4.0" fill="#c6c636" stroke="#8b6914" stroke-width="0.5"/>
<text transform="translate(117.00 479.10) rotate(0.03) scale(1.000 0.980)">6:21am</text>
<polygon points="146.90,483.10 149.26,486.46 153.18,487.66 150.71,490.94 150.78,495.04 146.90,493.70 143.03,495.04 143.10,490.94 140.63,487.66 144.55,486.46" fill="#8b6914" stroke="none"/>
<text transform="translate(154.10 493.80) rotate(0.03) scale(1.000 0.980)">5:51pm</text>
<circle cx="122.86" cy="503.2" r="5.0" fill="#ffffcc" stroke="#626262" stroke-width="1.1"/>
<text transform="translate(130.56 506.50) rotate(0.03) scale(1.000 0.980)">10:19am</text>
<polygon points="186.74,468.90 188.92,472.91 193.40,473.74 190.26,477.04 190.86,481.56 186.74,479.60 182.63,481.56 183.22,477.04 180.09,473.74 184.57,472.91" fill="#8b6914" stroke="none"/>
<circle cx="186.74" cy="476.1" r="4.0" fill="#c6c636" stroke="#8b6914" stroke-width="0.5"/>
<text transform="translate(193.54 479.10) rotate(0.03) scale(1.000 0.980)">6:20am</text>
<polygon points="223.55,483.10 225.90,486.46 229.83,487.66 227.35,490.94 227.43,495.04 223.55,493.70 219.67,495.04 219.74,490.94 217.27,487.66 221.20,486.46" fill="#8b6914" stroke="none"/>
<text transform="translate(230.75 493.80) rotate(0.03) scale(1.000 0.980)">5:52pm</text>
<circle cx="201.53" cy="503.2" r="5.0" fill="#ffffcc" stroke="#626262" stroke-width="1.1"/>
<text transform="translate(209.23 506.50) rotate(0.03) scale(1.000 0.980)">10:58am</text>
<polygon points="263.28,468.90 265.46,472.91 269.94,473.74 266.80,477.04 267.40,481.56 263.28,479.60 259.17,481.56 259.76,477.04 256.62,473.74 261.11,472.91" fill="#8b6914" stroke="none"/>
<circle cx="263.28" cy="476.1" r="4.0" fill="#c6c636" stroke="#8b6914" stroke-width="0.5"/>
<text transform="translate(270.08 479.10) rotate(0.03) scale(1.000 0.980)">6:19am</text>
<polygon points="300.14,483.10 302.49,486.46 306.42,487.66 303.94,490.94 304.02,495.04 300.14,493.70 296.26,495.04 296.34,490.94 293.86,487.66 297.79,486.46" fill="#8b6914" stroke="none"/>
<text transform="translate(307.34 493.80) rotate(0.03) scale(1.000 0.980)">5:52pm</text>
<circle cx="280.46" cy="503.2" r="5.0" fill="#ffffcc" stroke="#626262" stroke-width="1.1"/>
<text transform="translate(288.16 506.50) rotate(0.03) scale(1.000 0.980)">11:42am</text>
<polygon points="339.77,468.90 341.94,472.91 346.42,473.74 343.28,477.04 343.88,481.56 339.77,479.60 335.65,481.56 336.25,477.04 333.11,473.74 337.59,472.91" fill="#8b6914" stroke="none"/>
<circle cx="339.77" cy="476.1" r="4.0" fill="#c6c636" stroke="#8b6914" stroke-width="0.5"/>
<text transform="translate(346.57 479.10) rotate(0.03) scale(1.000 0.980)">6:17am</text>
<polygon points="376.78,483.10 379.14,486.46 383.06,487.66 380.59,490.94 380.66,495.04 376.78,493.70 372.91,495.04 372.98,490.94 370.51,487.66 374.43,486.46" fill="#8b6914" stroke="none"/>
<text transform="translate(383.98 493.80) rotate(0.03) scale(1.000 0.980)">5:53pm</text>
<circle cx="359.82" cy="503.2" r="5.0" fill="#ffffcc" stroke="#626262" stroke-width="1.1"/>
<text transform="translate(367.52 506.50) rotate(0.03) scale(1.000 0.980)">12:34pm</text>
<polygon points="416.30,468.90 418.48,472.91 422.96,473.74 419.82,477.04 420.42,481.56 416.30,479.60 412.19,481.56 412.78,477.04 409.65,473.74 414.13,472.91" fill="#8b6914" stroke="none"/>
<circle cx="416.30" cy="476.1" r="4.0" fill="#c6c636" stroke="#8b6914" stroke-width="0.5"/>
<text transform="translate(423.10 479.10) rotate(0.03) scale(1.000 0.980)">6:16am</text>
<polygon points="453.43,483.10 455.78,486.46 459.71,487.66 457.23,490.94 457.31,495.04 453.43,493.70 449.55,495.04 449.62,490.94 447.15,487.66 451.08,486.46" fill="#8b6914" stroke="none"/>
<text transform="translate(460.63 493.80) rotate(0.03) scale(1.000 0.980)">5:54pm</text>
<circle cx="439.60" cy="503.2" r="5.0" fill="#ffffcc" stroke="#626262" stroke-width="1.1"/>
<text transform="translate(447.30 506.50) rotate(0.03) scale(1.000 0.980)">1:34pm</text>
<polygon points="492.84,468.90 495.02,472.91 499.50,473.74 496.36,477.04 496.96,481.56 492.84,479.60 488.73,481.56 489.32,477.04 486.18,473.74 490.67,472.91" fill="#8b6914" stroke="none"/>
<circle cx="492.84" cy="476.1" r="4.0" fill="#c6c636" stroke="#8b6914" stroke-width="0.5"/>
<text transform="translate(499.64 479.10) rotate(0.03) scale(1.000 0.980)">6:15am</text>
<polygon points="530.07,483.10 532.42,486.46 536.35,487.66 533.88,490.94 533.95,495.04 530.07,493.70 526.19,495.04 526.27,490.94 523.80,487.66 527.72,486.46" fill="#8b6914" stroke="none"/>
<text transform="translate(537.27 493.80) rotate(0.03) scale(1.000 0.980)">5:55pm</text>
<circle cx="519.65" cy="503.2" r="5.0" fill="#ffffcc" stroke="#626262" stroke-width="1.1"/>
<text transform="translate(527.35 506.50) rotate(0.03) scale(1.000 0.980)">2:39pm</text>
<polygon points="569.38,468.90 571.55,472.91 576.04,473.74 572.90,477.04 573.49,481.56 569.38,479.60 565.27,481.56 565.86,477.04 562.72,473.74 567.20,472.91" fill="#8b6914" stroke="none"/>
<circle cx="569.38" cy="476.1" r="4.0" fill="#c6c636" stroke="#8b6914" stroke-width="0.5"/>
<text transform="translate(576.18 479.10) rotate(0.03) scale(1.000 0.980)">6:14am</text>
<polygon points="606.72,483.10 609.07,486.46 612.99,487.66 610.52,490.94 610.60,495.04 606.72,493.70 602.84,495.04 602.91,490.94 600.44,487.66 604.37,486.46" fill="#8b6914" stroke="none"/>
<text transform="translate(613.92 493.80) rotate(0.03) scale(1.000 0.980)">5:56pm</text>
<circle cx="599.96" cy="503.2" r="5.0" fill="#ffffcc" stroke="#626262" stroke-width="1.1"/>
<text transform="translate(607.66 506.50) rotate(0.03) scale(1.000 0.980)">3:49pm</text>
<polygon points="645.86,468.90 648.04,472.91 652.52,473.74 649.38,477.04 649.98,481.56 645.86,479.60 641.75,481.56 642.35,477.04 639.21,473.74 643.69,472.91" fill="#8b6914" stroke="none"/>
<circle cx="645.86" cy="476.1" r="4.0" fill="#c6c636" stroke="#8b6914" stroke-width="0.5"/>
<text transform="translate(652.66 479.10) rotate(0.03) scale(1.000 0.980)">6:12am</text>
<polygon points="683.31,483.10 685.66,486.46 689.59,487.66 687.11,490.94 687.19,495.04 683.31,493.70 679.43,495.04 679.50,490.94 677.03,487.66 680.96,486.46" fill="#8b6914" stroke="none"/>
<text transform="translate(690.51 493.80) rotate(0.03) scale(1.000 0.980)">5:56pm</text>
<circle cx="680.38" cy="503.2" r="5.0" fill="#ffffcc" stroke="#626262" stroke-width="1.1"/>
<text transform="translate(688.08 506.50) rotate(0.03) scale(1.000 0.980)">5:01pm</text>
<circle cx="167.81" cy="516.6" r="5.0" fill="#c8c8b4" stroke="#626262" stroke-width="1.1"/>
<text transform="translate(175.31 519.60) rotate(0.03) scale(1.000 0.980)">12:24am</text>
<circle cx="247.54" cy="516.6" r="5.0" fill="#c8c8b4" stroke="#626262" stroke-width="1.1"/>
<text transform="translate(255.04 519.60) rotate(0.03) scale(1.000 0.980)">1:23am</text>
<circle cx="327.27" cy="516.6" r="5.0" fill="#c8c8b4" stroke="#626262" stroke-width="1.1"/>
<text transform="translate(334.77 519.60) rotate(0.03) scale(1.000 0.980)">2:22am</text>
<circle cx="406.89" cy="516.6" r="5.0" fill="#c8c8b4" stroke="#626262" stroke-width="1.1"/>
<text transform="translate(414.39 519.60) rotate(0.03) scale(1.000 0.980)">3:19am</text>
<circle cx="486.35" cy="516.6" r="5.0" fill="#c8c8b4" stroke="#626262" stroke-width="1.1"/>
<text transform="translate(493.85 519.60) rotate(0.03) scale(1.000 0.980)">4:13am</text>
<circle cx="565.60" cy="516.6" r="5.0" fill="#c8c8b4" stroke="#626262" stroke-width="1.1"/>
<text transform="translate(573.10 519.60) rotate(0.03) scale(1.000 0.980)">5:03am</text>
<circle cx="644.53" cy="516.6" r="5.0" fill="#c8c8b4" stroke="#626262" stroke-width="1.1"/>
<text transform="translate(652.03 519.60) rotate(0.03) scale(1.000 0.980)">5:47am</text>
<text transform="translate(148.90 533.50) rotate(0.03) scale(1.000 0.980)">First Quarter | 11:58am</text>
</g>
</svg>
</body></html>
